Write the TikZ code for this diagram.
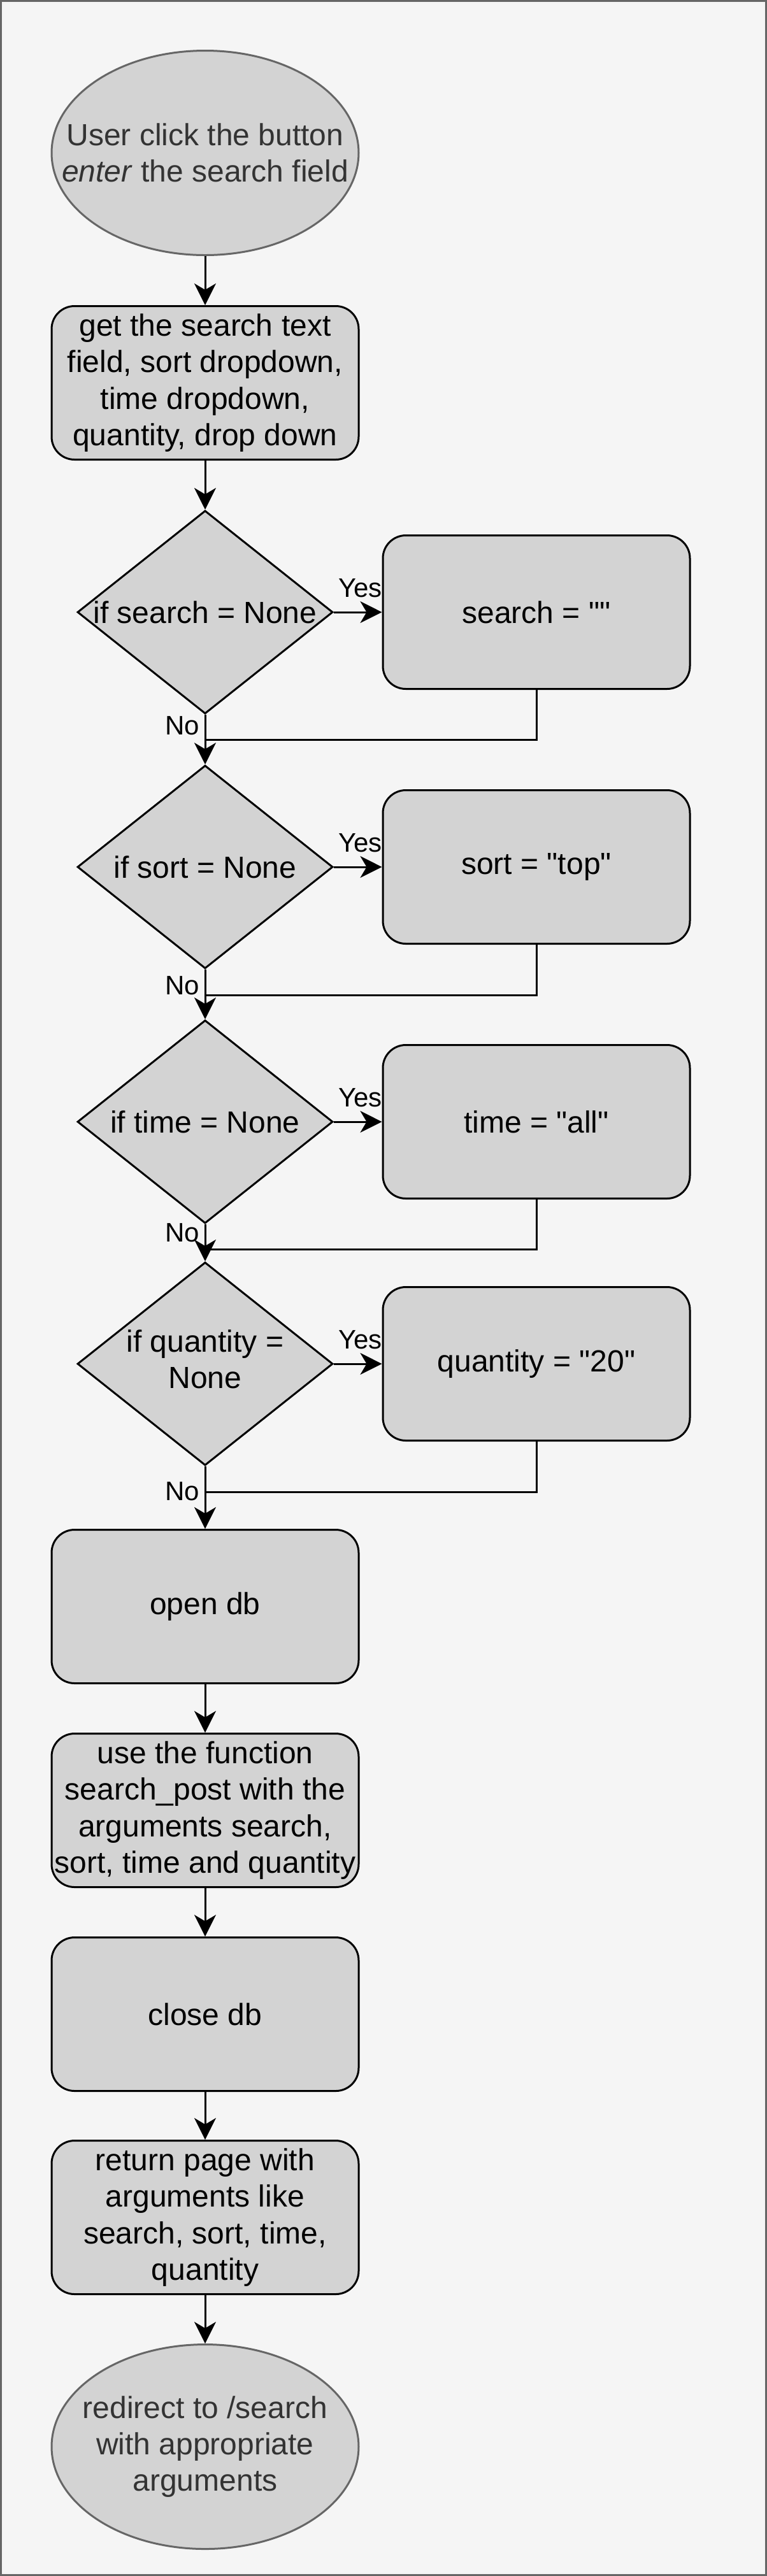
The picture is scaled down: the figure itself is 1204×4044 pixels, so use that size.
\documentclass[tikz,border=0pt]{standalone}
\usepackage{fontspec}
\setmainfont{Liberation Sans}
\usetikzlibrary{shapes.geometric, arrows.meta}

\definecolor{bgfill}{HTML}{F5F5F5}
\definecolor{framegray}{HTML}{666666}
\definecolor{boxfill}{HTML}{D3D3D3}
\definecolor{textdark}{HTML}{333333}

\begin{document}
\begin{tikzpicture}[x=0.5pt, y=-0.5pt,
        every node/.style={font=\fontsize{24}{28.7}\selectfont},
        terminal/.style={ellipse, draw=framegray, fill=boxfill, line width=1.5pt, minimum width=241pt, minimum height=160.5pt, inner sep=0pt},
        termlabel/.style={text=textdark, align=center, inner sep=0pt},
        procbox/.style={rectangle, rounded corners=18pt, draw=black, fill=boxfill, line width=1.5pt, minimum width=241pt, minimum height=120.5pt, inner sep=0pt, align=center},
        decision/.style={diamond, draw=black, fill=boxfill, line width=1.5pt, minimum width=200.5pt, minimum height=159.5pt, inner sep=0pt},
        decisionlabel/.style={align=center, inner sep=0pt},
        flow/.style={-{Stealth[length=17pt, width=17pt, inset=5pt]}, line width=1.5pt},
        joinline/.style={line width=1.5pt},
        edgetext/.style={font=\fontsize{21}{25}\selectfont, inner sep=0pt}]

        % Sfondo e cornice
        \useasboundingbox (0, 0) rectangle (1204, 4044);
        \draw[fill=bgfill, draw=framegray, line width=1.5pt] (1.5, 1.5) rectangle (1202.5, 4042.5);

        % Inizio
        \node[terminal] (start) at (322, 240) {};
        \node[termlabel] (starttext) at (start) {User click the button\\\textit{enter} the search field};

        \node[procbox] (getfields) at (322, 601) {get the search text\\field, sort dropdown,\\time dropdown,\\quantity, drop down};

        % Controlli
        \node[decision] (ifsearch) at (322, 961) {};
        \node[decisionlabel] (ifsearchtext) at (ifsearch) {if search = None};
        \node[procbox] (setsearch) at (842, 961) {search = \textquotedbl\textquotedbl};

        \node[decision] (ifsort) at (322, 1361) {};
        \node[decisionlabel] (ifsorttext) at (ifsort) {if sort = None};
        \node[procbox] (setsort) at (842, 1361) {sort = \textquotedbl top\textquotedbl};

        \node[decision] (iftime) at (322, 1761) {};
        \node[decisionlabel] (iftimetext) at (iftime) {if time = None};
        \node[procbox] (settime) at (842, 1761) {time = \textquotedbl all\textquotedbl};

        \node[decision] (ifquantity) at (322, 2141) {};
        \node[decisionlabel] (ifquantitytext) at (322, 2134) {if quantity =\\None};
        \node[procbox] (setquantity) at (842, 2141) {quantity = \textquotedbl 20\textquotedbl};

        % Database e risultato
        \node[procbox] (opendb) at (322, 2522) {open db};
        \node[procbox] (callsearch) at (322, 2842) {use the function\\search\_post with the\\arguments search,\\sort, time and quantity};
        \node[procbox] (closedb) at (322, 3162) {close db};
        \node[procbox] (returnpage) at (322, 3481) {return page with\\arguments like\\search, sort, time,\\quantity};

        \node[terminal] (finish) at (322, 3841) {};
        \node[termlabel] (finishtext) at (finish) {redirect to /search\\with appropriate\\arguments};

        % Punti di ricongiungimento
        \coordinate (merge1) at (322, 1161);
        \coordinate (merge2) at (322, 1562);
        \coordinate (merge3) at (322, 1961);
        \coordinate (merge4) at (322, 2342);

        % Frecce principali
        \draw[flow] (start) -- (getfields);
        \draw[flow] (getfields) -- (ifsearch);
        \draw[flow] (ifsearch) -- (ifsort) node[edgetext, pos=0.22, xshift=-18pt] (no1) {No};
        \draw[flow] (ifsort) -- (iftime) node[edgetext, pos=0.32, xshift=-18pt] (no2) {No};
        \draw[flow] (iftime) -- (ifquantity) node[edgetext, pos=0.22, xshift=-18pt] (no3) {No};
        \draw[flow] (ifquantity) -- (opendb) node[edgetext, pos=0.4, xshift=-18pt] (no4) {No};
        \draw[flow] (opendb) -- (callsearch);
        \draw[flow] (callsearch) -- (closedb);
        \draw[flow] (closedb) -- (returnpage);
        \draw[flow] (returnpage) -- (finish);

        % Rami Yes
        \draw[flow] (ifsearch) -- (setsearch) node[edgetext, pos=0.55, yshift=19pt] (yes1) {Yes};
        \draw[flow] (ifsort) -- (setsort) node[edgetext, pos=0.55, yshift=19pt] (yes2) {Yes};
        \draw[flow] (iftime) -- (settime) node[edgetext, pos=0.55, yshift=19pt] (yes3) {Yes};
        \draw[flow] (ifquantity) -- (setquantity) node[edgetext, pos=0.55, yshift=19pt] (yes4) {Yes};

        % Ritorno sulla linea principale
        \draw[joinline] (setsearch) |- (merge1);
        \draw[joinline] (setsort) |- (merge2);
        \draw[joinline] (settime) |- (merge3);
        \draw[joinline] (setquantity) |- (merge4);

\end{tikzpicture}
\end{document}
